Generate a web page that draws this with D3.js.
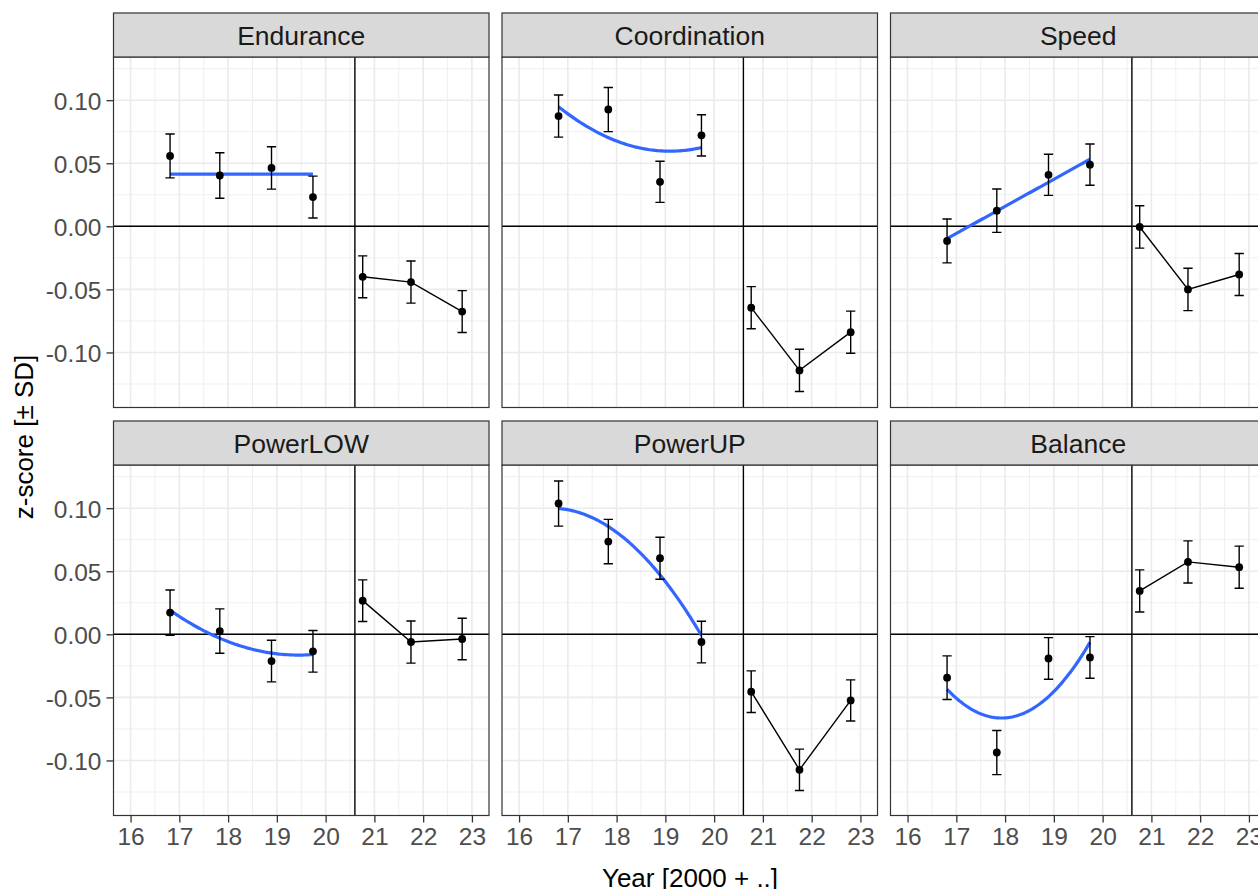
<!DOCTYPE html>
<html>
<head>
<meta charset="utf-8">
<script src="https://cdn.jsdelivr.net/npm/d3@7"></script>
<style>
  body { margin: 0; background: #fff; }
  svg { display: block; font-family: "Liberation Sans", Arial, Helvetica, sans-serif; }
</style>
</head>
<body>
<div id="chart"></div>
<script>
// Facets, in reading order (3 per row)
const panels = ["Endurance", "Coordination", "Speed", "PowerLOW", "PowerUP", "Balance"];

// Test years (2000 + ..) before and after the cut
const preYears = [16.81, 17.83, 18.89, 19.74];
const postYears = [20.76, 21.75, 22.8];
const cutYear = 20.6;

// Mean z-scores and SD for each facet
const preMean = [
  [0.0558, 0.0403, 0.0463, 0.0232],
  [0.0874, 0.0926, 0.0353, 0.0721],
  [-0.0116, 0.0124, 0.0408, 0.0489],
  [0.0172, 0.0026, -0.0212, -0.0135],
  [0.1037, 0.0735, 0.0603, -0.0061],
  [-0.0344, -0.0937, -0.0191, -0.0183],
];
const preSD = [
  [0.0174, 0.018, 0.0168, 0.0166],
  [0.0167, 0.0175, 0.0163, 0.0164],
  [0.0174, 0.0172, 0.0163, 0.0164],
  [0.0179, 0.0176, 0.0165, 0.0165],
  [0.0179, 0.0176, 0.0167, 0.0165],
  [0.0173, 0.0175, 0.0165, 0.0165],
];
const postMean = [
  [-0.04, -0.0442, -0.0676],
  [-0.0645, -0.1142, -0.0839],
  [-0.0005, -0.05, -0.0382],
  [0.0267, -0.0061, -0.0037],
  [-0.0455, -0.1074, -0.0524],
  [0.0344, 0.0574, 0.0532],
];
const postSD = [
  [0.0166, 0.0167, 0.0166],
  [0.0167, 0.0168, 0.0167],
  [0.0168, 0.0168, 0.0166],
  [0.0165, 0.0167, 0.0165],
  [0.0165, 0.0164, 0.0163],
  [0.0167, 0.0167, 0.0167],
];

// Degree of the polynomial trend fitted to the pre-cut years
const fitDegree = [0, 2, 1, 2, 2, 2];

// Axis ticks
const xLimits = [16, 23];
const xTicks = [16, 17, 18, 19, 20, 21, 22, 23];
const xMinor = [16.5, 17.5, 18.5, 19.5, 20.5, 21.5, 22.5];
const yTicks = [-0.1, -0.05, 0, 0.05, 0.1];
const yMinor = [-0.125, -0.075, -0.025, 0.025, 0.075, 0.125];

// Layout
const width = 1258;
const height = 889;
const colLeft = [113.5, 502, 890.5];
const rowTop = [13, 421];
const panelW = 375.5;
const stripH = 44;
const panelH = 350.5;
const errWidth = 0.19;
const inkWidth = 1.4;

const svg = d3
  .select("#chart")
  .append("svg")
  .attr("width", width)
  .attr("height", height);

// Shared scales (ggplot style 5% expansion)
const xPad = (xLimits[1] - xLimits[0]) * 0.05;
const x = d3
  .scaleLinear()
  .domain([xLimits[0] - xPad, xLimits[1] + xPad])
  .range([0, panelW]);

const allLo = preMean.flatMap((m, i) => m.map((v, j) => v - preSD[i][j]))
  .concat(postMean.flatMap((m, i) => m.map((v, j) => v - postSD[i][j])));
const allHi = preMean.flatMap((m, i) => m.map((v, j) => v + preSD[i][j]))
  .concat(postMean.flatMap((m, i) => m.map((v, j) => v + postSD[i][j])));
const yLo = d3.min(allLo);
const yHi = d3.max(allHi);
const yPad = (yHi - yLo) * 0.05;
const y = d3
  .scaleLinear()
  .domain([yLo - yPad, yHi + yPad])
  .range([panelH, 0]);

// Least squares polynomial fit, x is centred for stability
function polyFit(xs, ys, deg) {
  const mx = d3.mean(xs);
  const n = deg + 1;
  const A = d3.range(n).map(() => new Array(n + 1).fill(0));
  xs.forEach((xv, k) => {
    const u = xv - mx;
    for (let r = 0; r < n; r++) {
      for (let c = 0; c < n; c++) A[r][c] += Math.pow(u, r + c);
      A[r][n] += Math.pow(u, r) * ys[k];
    }
  });
  // Gaussian elimination
  for (let i = 0; i < n; i++) {
    for (let r = i + 1; r < n; r++) {
      const f = A[r][i] / A[i][i];
      for (let c = i; c <= n; c++) A[r][c] -= f * A[i][c];
    }
  }
  const coef = new Array(n).fill(0);
  for (let i = n - 1; i >= 0; i--) {
    let s = A[i][n];
    for (let c = i + 1; c < n; c++) s -= A[i][c] * coef[c];
    coef[i] = s / A[i][i];
  }
  return (xv) => coef.reduce((acc, c, p) => acc + c * Math.pow(xv - mx, p), 0);
}

const line = d3
  .line()
  .x((d) => x(d.year))
  .y((d) => y(d.mean));

panels.forEach((name, i) => {
  const col = i % 3;
  const row = Math.floor(i / 3);
  const top = rowTop[row] + stripH;

  const g = svg
    .append("g")
    .attr("transform", `translate(${colLeft[col]},${top})`);

  const clipId = "clip" + i;
  g.append("clipPath")
    .attr("id", clipId)
    .append("rect")
    .attr("width", panelW)
    .attr("height", panelH);

  const body = g.append("g").attr("clip-path", `url(#${clipId})`);

  body
    .append("rect")
    .attr("width", panelW)
    .attr("height", panelH)
    .attr("fill", "#fff");

  // Minor grid
  body
    .selectAll(".xminor")
    .data(xMinor)
    .join("line")
    .attr("x1", (d) => x(d))
    .attr("x2", (d) => x(d))
    .attr("y1", 0)
    .attr("y2", panelH)
    .attr("stroke", "#EBEBEB")
    .attr("stroke-width", 0.8);
  body
    .selectAll(".yminor")
    .data(yMinor)
    .join("line")
    .attr("x1", 0)
    .attr("x2", panelW)
    .attr("y1", (d) => y(d))
    .attr("y2", (d) => y(d))
    .attr("stroke", "#EBEBEB")
    .attr("stroke-width", 0.8);

  // Major grid
  body
    .selectAll(".xmajor")
    .data(xTicks)
    .join("line")
    .attr("x1", (d) => x(d))
    .attr("x2", (d) => x(d))
    .attr("y1", 0)
    .attr("y2", panelH)
    .attr("stroke", "#EBEBEB")
    .attr("stroke-width", 1.6);
  body
    .selectAll(".ymajor")
    .data(yTicks)
    .join("line")
    .attr("x1", 0)
    .attr("x2", panelW)
    .attr("y1", (d) => y(d))
    .attr("y2", (d) => y(d))
    .attr("stroke", "#EBEBEB")
    .attr("stroke-width", 1.6);

  // Reference lines at zero and at the cut
  body
    .append("line")
    .attr("x1", 0)
    .attr("x2", panelW)
    .attr("y1", y(0))
    .attr("y2", y(0))
    .attr("stroke", "#000")
    .attr("stroke-width", inkWidth);
  body
    .append("line")
    .attr("x1", x(cutYear))
    .attr("x2", x(cutYear))
    .attr("y1", 0)
    .attr("y2", panelH)
    .attr("stroke", "#000")
    .attr("stroke-width", inkWidth);

  const pre = preYears.map((yr, j) => ({ year: yr, mean: preMean[i][j], sd: preSD[i][j] }));
  const post = postYears.map((yr, j) => ({ year: yr, mean: postMean[i][j], sd: postSD[i][j] }));

  // Trend over the pre-cut years
  const fit = polyFit(preYears, preMean[i], fitDegree[i]);
  const xs = d3.range(81).map(
    (k) => d3.min(preYears) + (k / 80) * (d3.max(preYears) - d3.min(preYears))
  );
  body
    .append("path")
    .datum(xs.map((xv) => ({ year: xv, mean: fit(xv) })))
    .attr("d", line)
    .attr("fill", "none")
    .attr("stroke", "#3366FF")
    .attr("stroke-width", 3.2);

  // Post-cut connecting line
  body
    .append("path")
    .datum(post)
    .attr("d", line)
    .attr("fill", "none")
    .attr("stroke", "#000")
    .attr("stroke-width", inkWidth);

  const pts = pre.concat(post);

  // Error bars
  body
    .selectAll(".err")
    .data(pts)
    .join("path")
    .attr("d", (d) => {
      const x0 = x(d.year - errWidth / 2);
      const x1 = x(d.year + errWidth / 2);
      const xc = x(d.year);
      const yt = y(d.mean + d.sd);
      const yb = y(d.mean - d.sd);
      return `M${x0},${yt}H${x1}M${xc},${yt}V${yb}M${x0},${yb}H${x1}`;
    })
    .attr("fill", "none")
    .attr("stroke", "#000")
    .attr("stroke-width", inkWidth);

  // Points
  body
    .selectAll(".pt")
    .data(pts)
    .join("circle")
    .attr("cx", (d) => x(d.year))
    .attr("cy", (d) => y(d.mean))
    .attr("r", 3.9)
    .attr("fill", "#000");

  // Panel border
  g.append("rect")
    .attr("width", panelW)
    .attr("height", panelH)
    .attr("fill", "none")
    .attr("stroke", "#333333")
    .attr("stroke-width", 1.2);

  // Strip
  const strip = svg
    .append("g")
    .attr("transform", `translate(${colLeft[col]},${rowTop[row]})`);
  strip
    .append("rect")
    .attr("width", panelW)
    .attr("height", stripH)
    .attr("fill", "#D9D9D9")
    .attr("stroke", "#333333")
    .attr("stroke-width", 1.2);
  strip
    .append("text")
    .attr("x", panelW / 2)
    .attr("y", stripH / 2)
    .attr("dy", "0.37em")
    .attr("text-anchor", "middle")
    .attr("font-size", 26.5)
    .attr("fill", "#1A1A1A")
    .text(name);

  // Axes on the outer panels only
  if (col === 0) {
    g.append("g")
      .call(
        d3
          .axisLeft(y)
          .tickValues(yTicks)
          .tickSize(7)
          .tickPadding(5)
          .tickFormat((d) => d.toFixed(2))
      )
      .call(styleAxis)
      .call((a) => a.selectAll("text").attr("dy", "0.38em"));
  }
  if (row === 1) {
    g.append("g")
      .attr("transform", `translate(0,${panelH})`)
      .call(
        d3
          .axisBottom(x)
          .tickValues(xTicks)
          .tickSize(7)
          .tickPadding(5)
          .tickFormat(d3.format("d"))
      )
      .call(styleAxis);
  }
});

function styleAxis(a) {
  a.attr("font-family", null).attr("font-size", null);
  a.select(".domain").remove();
  a.selectAll(".tick line").attr("stroke", "#333333").attr("stroke-width", 1.3);
  a.selectAll(".tick text").attr("fill", "#4D4D4D").attr("font-size", 24.5);
}

// Axis titles
svg
  .append("text")
  .attr("x", 690)
  .attr("y", 887)
  .attr("text-anchor", "middle")
  .attr("font-size", 26)
  .attr("fill", "#000")
  .text("Year [2000 + ..]");

svg
  .append("text")
  .attr("transform", "translate(33,437) rotate(-90)")
  .attr("text-anchor", "middle")
  .attr("font-size", 26)
  .attr("fill", "#000")
  .text("z-score [± SD]");
</script>
</body>
</html>
